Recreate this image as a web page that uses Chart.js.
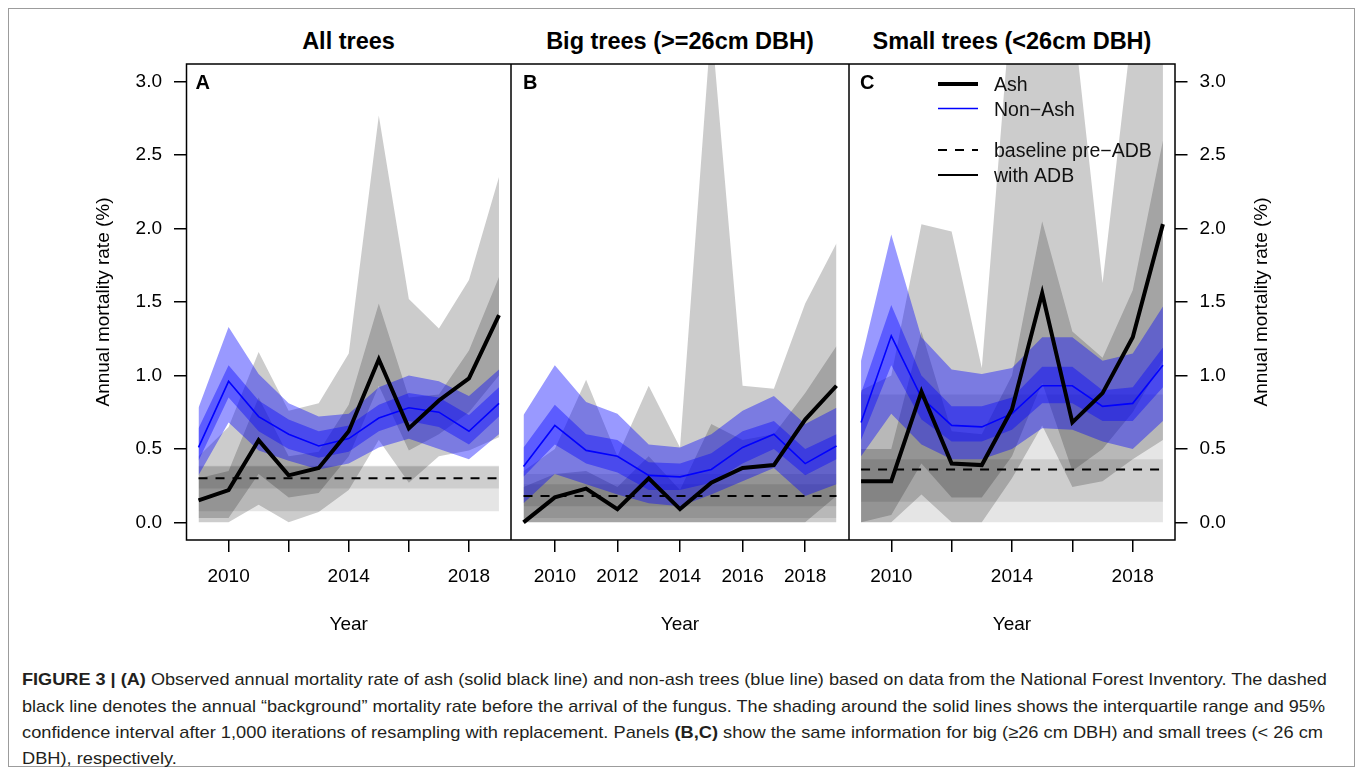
<!DOCTYPE html>
<html>
<head>
<meta charset="utf-8">
<title>Annual mortality rate</title>
<script src="https://cdn.jsdelivr.net/npm/chart.js@4.4.1/dist/chart.umd.min.js"></script>
<style>
    body { margin: 0; background: #fff; width: 1357px; height: 773px; position: relative; overflow: hidden;
           font-family: "Liberation Sans", Arial, Helvetica, sans-serif; }
    #frame { position: absolute; left: 8px; top: 8px; width: 1345px; height: 757px; border: 1px solid #9c9c9c; }
    canvas { position: absolute; top: 0; }
    .title { position: absolute; top: 30px; font-weight: bold; font-size: 23.5px; line-height: 23.5px;
             text-align: center; color: #000; white-space: nowrap; }
    .cap { position: absolute; left: 22px; white-space: nowrap; transform-origin: 0 0;
           font-family: "Liberation Sans Narrow", "Arial Narrow", "Liberation Sans", sans-serif;
           font-size: 17px; line-height: 17px; color: #231f20; }
</style>
</head>
<body>
<div id="frame"></div>

<div class="title" style="left:186px;width:325px">All trees</div>
<div class="title" style="left:511px;width:338px">Big trees (&gt;=26cm DBH)</div>
<div class="title" style="left:849px;width:326px">Small trees (&lt;26cm DBH)</div>

<canvas id="panelA" width="431" height="650" style="left:80px;width:431px;height:650px"></canvas>
<canvas id="panelB" width="338" height="650" style="left:511px;width:338px;height:650px"></canvas>
<canvas id="panelC" width="451" height="650" style="left:849px;width:451px;height:650px"></canvas>

<div class="cap" id="cap1" style="top:671px"><b>FIGURE 3 | (A)</b> Observed annual mortality rate of ash (solid black line) and non-ash trees (blue line) based on data from the National Forest Inventory. The dashed</div>
<div class="cap" id="cap2" style="top:698px">black line denotes the annual “background” mortality rate before the arrival of the fungus. The shading around the solid lines shows the interquartile range and 95%</div>
<div class="cap" id="cap3" style="top:724px">confidence interval after 1,000 iterations of resampling with replacement. Panels <b>(B,C)</b> show the same information for big (≥26 cm DBH) and small trees (&lt; 26 cm</div>
<div class="cap" id="cap4" style="top:750px">DBH), respectively.</div>

<script>
const years = [2009, 2010, 2011, 2012, 2013, 2014, 2015, 2016, 2017, 2018, 2019];
const xTicks = [2010, 2012, 2014, 2016, 2018];
const yTicks = [0, 0.5, 1, 1.5, 2, 2.5, 3];

// All trees
const allAsh       = [0.15, 0.22, 0.56, 0.32, 0.37, 0.62, 1.11, 0.64, 0.83, 0.98, 1.41];
const allAshIqrLo  = [0.03, 0.03, 0.33, 0.17, 0.20, 0.45, 0.93, 0.49, 0.60, 0.75, 1.00];
const allAshIqrHi  = [0.30, 0.35, 0.85, 0.45, 0.48, 0.80, 1.49, 0.85, 0.87, 1.17, 1.67];
const allAshCiLo   = [0.00, 0.00, 0.12, 0.00, 0.07, 0.22, 0.56, 0.27, 0.45, 0.49, 0.58];
const allAshCiHi   = [0.45, 0.65, 1.16, 0.76, 0.81, 1.15, 2.77, 1.52, 1.32, 1.65, 2.35];
const allNon       = [0.51, 0.96, 0.72, 0.60, 0.52, 0.57, 0.71, 0.78, 0.75, 0.62, 0.81];
const allNonIqrLo  = [0.42, 0.85, 0.62, 0.50, 0.44, 0.48, 0.62, 0.69, 0.65, 0.53, 0.72];
const allNonIqrHi  = [0.64, 1.07, 0.83, 0.70, 0.62, 0.66, 0.80, 0.88, 0.85, 0.73, 0.92];
const allNonCiLo   = [0.32, 0.68, 0.49, 0.42, 0.36, 0.40, 0.51, 0.57, 0.50, 0.43, 0.60];
const allNonCiHi   = [0.78, 1.33, 1.01, 0.81, 0.72, 0.74, 0.92, 1.00, 0.96, 0.86, 1.04];
const allBase = 0.30;
const allBaseIqr = [0.23, 0.38];
const allBaseCi  = [0.075, 0.385];

// Big trees (>=26cm DBH)
const bigAsh       = [0.00, 0.17, 0.23, 0.09, 0.30, 0.09, 0.27, 0.37, 0.39, 0.70, 0.93];
const bigAshIqrLo  = [0.00, 0.00, 0.00, 0.00, 0.00, 0.00, 0.00, 0.00, 0.00, 0.00, 0.18];
const bigAshIqrHi  = [0.24, 0.33, 0.35, 0.24, 0.45, 0.22, 0.67, 0.56, 0.60, 0.88, 1.20];
const bigAshCiLo   = [0.00, 0.00, 0.00, 0.00, 0.00, 0.00, 0.00, 0.00, 0.00, 0.00, 0.00];
const bigAshCiHi   = [0.35, 0.50, 0.97, 0.45, 0.93, 0.51, 3.40, 0.93, 0.91, 1.49, 1.90];
const bigNon       = [0.38, 0.66, 0.49, 0.45, 0.32, 0.31, 0.36, 0.51, 0.60, 0.40, 0.52];
const bigNonIqrLo  = [0.31, 0.53, 0.40, 0.34, 0.22, 0.22, 0.27, 0.40, 0.50, 0.32, 0.43];
const bigNonIqrHi  = [0.51, 0.80, 0.60, 0.56, 0.41, 0.40, 0.47, 0.62, 0.69, 0.50, 0.60];
const bigNonCiLo   = [0.13, 0.33, 0.26, 0.19, 0.13, 0.11, 0.19, 0.28, 0.37, 0.18, 0.26];
const bigNonCiHi   = [0.73, 1.07, 0.82, 0.74, 0.53, 0.51, 0.60, 0.76, 0.86, 0.67, 0.78];
const bigBase = 0.18;
const bigBaseIqr = [0.11, 0.26];
const bigBaseCi  = [0.03, 0.33];

// Small trees (<26cm DBH)
const smallAsh      = [0.28, 0.28, 0.89, 0.40, 0.39, 0.77, 1.56, 0.68, 0.88, 1.26, 2.03];
const smallAshIqrLo = [0.00, 0.05, 0.40, 0.17, 0.17, 0.45, 0.95, 0.35, 0.50, 0.75, 1.10];
const smallAshIqrHi = [0.50, 0.50, 1.30, 0.62, 0.60, 1.00, 2.05, 1.30, 1.12, 1.58, 2.60];
const smallAshCiLo  = [0.00, 0.00, 0.19, 0.00, 0.00, 0.30, 0.66, 0.24, 0.28, 0.43, 0.56];
const smallAshCiHi  = [0.90, 1.00, 2.03, 1.98, 1.05, 3.60, 4.00, 3.50, 1.63, 3.40, 3.60];
const smallNon      = [0.68, 1.27, 0.85, 0.66, 0.65, 0.74, 0.93, 0.93, 0.79, 0.81, 1.07];
const smallNonIqrLo = [0.56, 1.07, 0.70, 0.55, 0.55, 0.63, 0.81, 0.81, 0.69, 0.69, 0.92];
const smallNonIqrHi = [0.88, 1.48, 1.00, 0.79, 0.79, 0.85, 1.06, 1.06, 0.90, 0.92, 1.19];
const smallNonCiLo  = [0.45, 0.74, 0.53, 0.43, 0.43, 0.50, 0.64, 0.63, 0.55, 0.50, 0.69];
const smallNonCiHi  = [1.10, 1.96, 1.26, 1.04, 1.01, 1.05, 1.26, 1.26, 1.10, 1.15, 1.47];
const smallBase = 0.36;
const smallBaseIqr = [0.14, 0.43];
const smallBaseCi  = [0.00, 0.87];

const FONT = '"Liberation Sans", Arial, Helvetica, sans-serif';
const Y_TITLE = 'Annual mortality rate (%)';
const GREY_BASE = 'rgba(0, 0, 0, 0.1)';
const GREY_ASH = 'rgba(0, 0, 0, 0.2)';
const BLUE_BAND = 'rgba(0, 0, 255, 0.4)';

function pts(vals) {
    return years.map(function (yr, i) { return {x: yr, y: vals[i]}; });
}

function flat(v) {
    return [{x: years[0], y: v}, {x: years[years.length - 1], y: v}];
}

// lower edge of a shaded band, nothing drawn
function edge(data) {
    return {data: data, borderWidth: 0, borderColor: 'transparent', pointRadius: 0, fill: false};
}

// upper edge of a band, filled down to the dataset before it
function area(data, color) {
    return {data: data, borderWidth: 0, borderColor: 'transparent', pointRadius: 0,
            fill: '-1', backgroundColor: color};
}

function buildDatasets(p) {
    const ds = [
        edge(flat(p.baseCi[0])), area(flat(p.baseCi[1]), GREY_BASE),
        edge(flat(p.baseIqr[0])), area(flat(p.baseIqr[1]), GREY_BASE),
        edge(pts(p.ashCiLo)), area(pts(p.ashCiHi), GREY_ASH),
        edge(pts(p.ashIqrLo)), area(pts(p.ashIqrHi), GREY_ASH),
        edge(pts(p.nonCiLo)), area(pts(p.nonCiHi), BLUE_BAND),
        edge(pts(p.nonIqrLo)), area(pts(p.nonIqrHi), BLUE_BAND),
        {data: flat(p.base), borderColor: '#000', borderWidth: 2, borderDash: [9, 8],
         pointRadius: 0, fill: false},
        {data: pts(p.non), borderColor: '#0000ff', borderWidth: 1.6, pointRadius: 0, fill: false},
        {data: pts(p.ash), borderColor: '#000', borderWidth: 4, pointRadius: 0, fill: false,
         borderJoinStyle: 'miter'}
    ];
    // later datasets go on top
    ds.forEach(function (d, i) { d.order = ds.length - i; d.tension = 0; });
    return ds;
}

// plot box and the panel letter
const boxFrame = {
    id: 'boxFrame',
    afterDatasetsDraw(chart, args, opts) {
        const ctx = chart.ctx;
        const a = chart.chartArea;
        ctx.save();
        ctx.strokeStyle = '#000';
        ctx.lineWidth = 1.5;
        ctx.strokeRect(a.left, a.top, a.right - a.left, a.bottom - a.top);
        ctx.fillStyle = '#000';
        ctx.font = 'bold 20px ' + FONT;
        ctx.textBaseline = 'alphabetic';
        ctx.fillText(opts.letter, a.left + opts.dx, a.top + 25);
        ctx.restore();
    }
};

// y title on the right-hand axis, reading upwards like the left one
const sideTitle = {
    id: 'sideTitle',
    afterDraw(chart, args, opts) {
        if (!opts.show) return;
        const ctx = chart.ctx;
        const a = chart.chartArea;
        ctx.save();
        ctx.translate(a.right + 87, (a.top + a.bottom) / 2);
        ctx.rotate(-Math.PI / 2);
        ctx.font = '19px ' + FONT;
        ctx.fillStyle = '#000';
        ctx.textAlign = 'center';
        ctx.textBaseline = 'middle';
        ctx.fillText(Y_TITLE, 0, 0);
        ctx.restore();
    }
};

// legend in the small trees panel
const keyBox = {
    id: 'keyBox',
    afterDraw(chart, args, opts) {
        if (!opts.show) return;
        const ctx = chart.ctx;
        const a = chart.chartArea;
        const x0 = a.left + 89, x1 = a.left + 129, tx = a.left + 145;
        const rows = [
            {y: 20, text: 'Ash', color: '#000', width: 4, dash: []},
            {y: 44.5, text: 'Non\u2212Ash', color: '#0000ff', width: 1.6, dash: []},
            {y: 86, text: 'baseline pre\u2212ADB', color: '#000', width: 2, dash: [9, 8]},
            {y: 111, text: 'with ADB', color: '#000', width: 2, dash: []}
        ];
        ctx.save();
        ctx.font = '19.5px ' + FONT;
        ctx.textBaseline = 'alphabetic';
        rows.forEach(function (r) {
            ctx.beginPath();
            ctx.setLineDash(r.dash);
            ctx.strokeStyle = r.color;
            ctx.lineWidth = r.width;
            ctx.moveTo(x0, a.top + r.y);
            ctx.lineTo(x1, a.top + r.y);
            ctx.stroke();
            ctx.fillStyle = '#111';
            ctx.fillText(r.text, tx, a.top + r.y + 7);
        });
        ctx.restore();
    }
};

function makePanel(id, p, cfg) {
    const tickFont = {size: 19, family: FONT};
    const scales = {
        x: {
            type: 'linear', min: 2008.6, max: 2019.4,
            afterBuildTicks: function (s) { s.ticks = xTicks.map(function (v) { return {value: v}; }); },
            afterFit: function (s) { s.height = 110; },
            ticks: {
                autoSkip: false, maxRotation: 0, color: '#000', font: tickFont, padding: 13.5,
                callback: function (v) { return cfg.xLabels.indexOf(v) >= 0 ? String(v) : ''; }
            },
            grid: {drawOnChartArea: false, drawTicks: true, tickLength: 12, color: '#000', lineWidth: 1.5},
            border: {display: false},
            title: {display: true, text: 'Year', color: '#000', font: tickFont, padding: {top: 0, bottom: 13.6}}
        },
        y: {
            type: 'linear', min: -0.12, max: 3.12,
            display: cfg.yPos !== null,
            position: cfg.yPos || 'left',
            afterBuildTicks: function (s) { s.ticks = yTicks.map(function (v) { return {value: v}; }); },
            afterFit: function (s) { s.width = cfg.yWidth; },
            ticks: {
                color: '#000', font: tickFont, padding: 12,
                callback: function (v) { return v.toFixed(1); }
            },
            grid: {drawOnChartArea: false, drawTicks: true, tickLength: 12.5, color: '#000', lineWidth: 1.5},
            border: {display: false},
            title: {display: cfg.yPos === 'left', text: Y_TITLE, color: '#000', font: tickFont,
                    padding: {top: 12.6, bottom: 0}}
        }
    };
    return new Chart(document.getElementById(id), {
        type: 'line',
        data: {datasets: buildDatasets(p)},
        options: {
            responsive: false,
            devicePixelRatio: 1,
            animation: false,
            events: [],
            layout: {padding: {top: 64, left: 0, right: 0, bottom: 0}},
            scales: scales,
            plugins: {
                legend: {display: false},
                tooltip: {enabled: false},
                filler: {propagate: false},
                boxFrame: {letter: cfg.letter, dx: cfg.letterDx},
                sideTitle: {show: cfg.yPos === 'right'},
                keyBox: {show: !!cfg.key}
            }
        },
        plugins: [boxFrame, sideTitle, keyBox]
    });
}

makePanel('panelA', {
    ash: allAsh, ashIqrLo: allAshIqrLo, ashIqrHi: allAshIqrHi, ashCiLo: allAshCiLo, ashCiHi: allAshCiHi,
    non: allNon, nonIqrLo: allNonIqrLo, nonIqrHi: allNonIqrHi, nonCiLo: allNonCiLo, nonCiHi: allNonCiHi,
    base: allBase, baseIqr: allBaseIqr, baseCi: allBaseCi
}, {letter: 'A', letterDx: 9, xLabels: [2010, 2014, 2018], yPos: 'left', yWidth: 106.5});

makePanel('panelB', {
    ash: bigAsh, ashIqrLo: bigAshIqrLo, ashIqrHi: bigAshIqrHi, ashCiLo: bigAshCiLo, ashCiHi: bigAshCiHi,
    non: bigNon, nonIqrLo: bigNonIqrLo, nonIqrHi: bigNonIqrHi, nonCiLo: bigNonCiLo, nonCiHi: bigNonCiHi,
    base: bigBase, baseIqr: bigBaseIqr, baseCi: bigBaseCi
}, {letter: 'B', letterDx: 12, xLabels: xTicks, yPos: null, yWidth: 0});

makePanel('panelC', {
    ash: smallAsh, ashIqrLo: smallAshIqrLo, ashIqrHi: smallAshIqrHi, ashCiLo: smallAshCiLo, ashCiHi: smallAshCiHi,
    non: smallNon, nonIqrLo: smallNonIqrLo, nonIqrHi: smallNonIqrHi, nonCiLo: smallNonCiLo, nonCiHi: smallNonCiHi,
    base: smallBase, baseIqr: smallBaseIqr, baseCi: smallBaseCi
}, {letter: 'C', letterDx: 11, xLabels: [2010, 2014, 2018], yPos: 'right', yWidth: 125, key: true});

// squeeze the caption lines to the column width
const capEnds = {cap1: 1327, cap2: 1325, cap3: 1323};
let lastScale = 1;
['cap1', 'cap2', 'cap3', 'cap4'].forEach(function (id) {
    const el = document.getElementById(id);
    const w = el.getBoundingClientRect().width;
    const s = capEnds[id] ? (capEnds[id] - 22) / w : lastScale;
    lastScale = s;
    el.style.transform = 'scaleX(' + s.toFixed(4) + ')';
});
</script>
</body>
</html>
